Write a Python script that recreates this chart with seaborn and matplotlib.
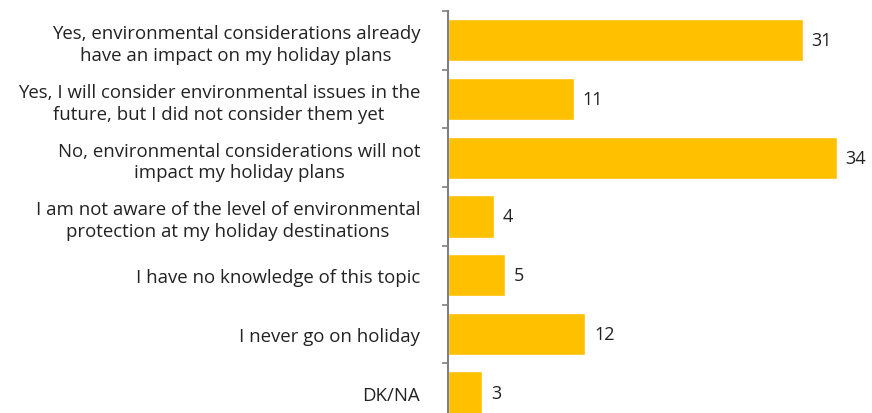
import matplotlib
matplotlib.use("Agg")
import matplotlib.pyplot as plt
import seaborn as sns
import pandas as pd
import numpy as np

categories = [
    "Yes, environmental considerations already\nhave an impact on my holiday plans",
    "Yes, I will consider environmental issues in the\nfuture, but I did not consider them yet",
    "No, environmental considerations will not\nimpact my holiday plans",
    "I am not aware of the level of environmental\nprotection at my holiday destinations",
    "I have no knowledge of this topic",
    "I never go on holiday",
    "DK/NA",
]
values = [31, 11, 34, 4, 5, 12, 3]

sns.set_theme(style="white")
plt.rcParams["font.family"] = ["Open Sans", "DejaVu Sans"]

df = pd.DataFrame({"cat": categories, "val": values})

fig = plt.figure(figsize=(8.72, 4.14), dpi=100)
W, H = 872, 414
ax_left = 448 / W
ax_right = 860 / W
ax = fig.add_axes([ax_left, 0.0, ax_right - ax_left, (H - 12) / H])

sns.barplot(data=df, x="val", y="cat", orient="h", color="#FFC000",
            saturation=1, width=0.72, ax=ax)

span = 36
ax.set_xlim(0, span)
spacing = 58.7
ax.set_ylim(-0.5 + (H - 12) / spacing, -0.5)

for i, v in enumerate(values):
    ax.text(v + 0.75, i, str(v), va="center", ha="left", fontsize=13,
            color="#222222")

sns.despine(ax=ax, top=True, right=True, bottom=True, left=False)
ax.spines["left"].set_color("#808080")
ax.spines["left"].set_linewidth(1.5)
ax.set_xticks([])
ax.set_xlabel("")
ax.set_ylabel("")

ax.set_yticks(range(len(categories)))
ax.set_yticklabels(categories, fontsize=13.4, color="#222222",
                   multialignment="center", linespacing=1.25)
ax.tick_params(axis="y", which="major", length=0, pad=20)
ax.set_yticks(np.arange(-0.5, len(categories) - 0.5, 1.0), minor=True)
ax.tick_params(axis="y", which="minor", length=4, width=1.2, color="#808080",
               left=True)

fig.savefig("out.png", dpi=100)
